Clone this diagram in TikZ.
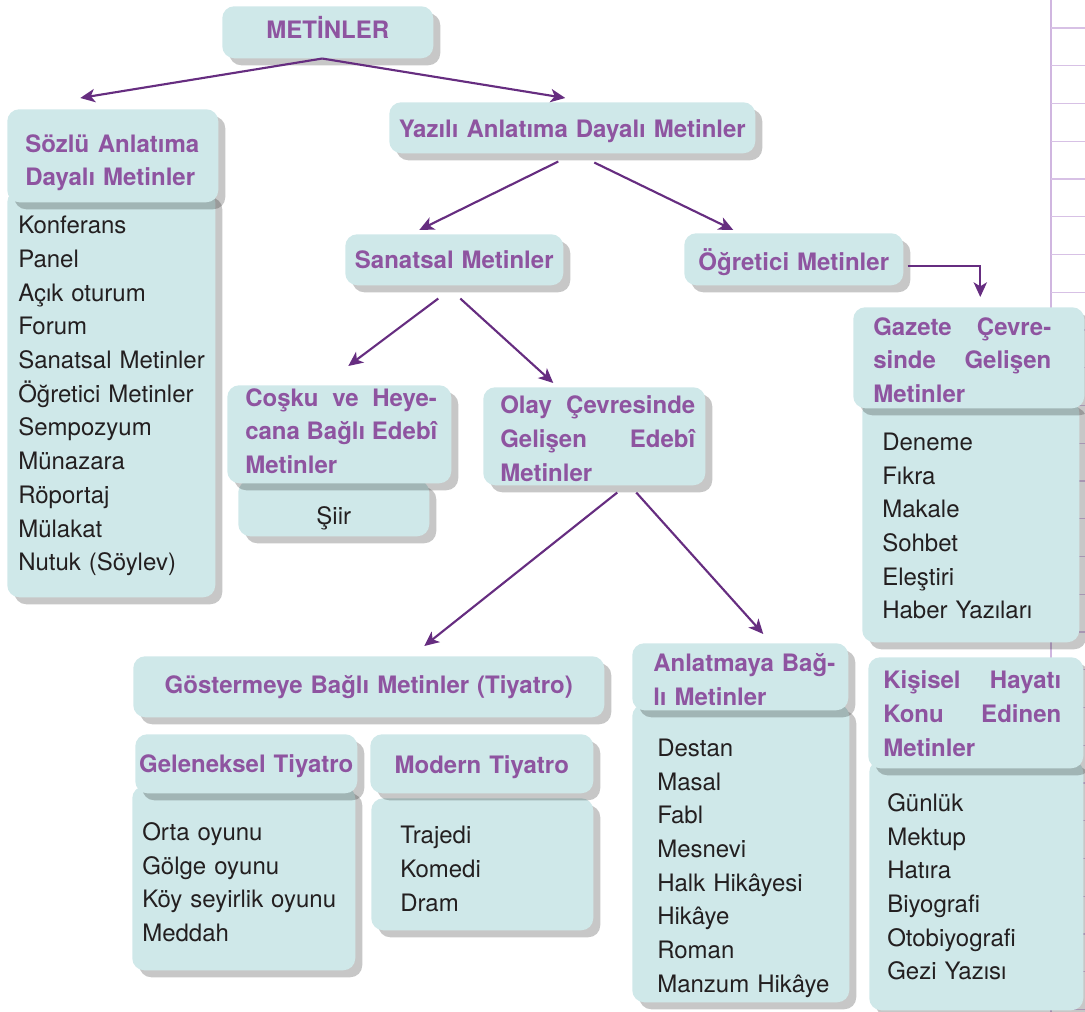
\documentclass[tikz,border=0pt]{standalone}
\usepackage{fontspec}
\setmainfont{TeX Gyre Heros}
\usetikzlibrary{arrows.meta,shadows,calc}
\definecolor{boxcol}{RGB}{207,232,233}
\definecolor{headcol}{RGB}{142,84,160}
\definecolor{itemcol}{RGB}{35,31,32}
\definecolor{arrowcol}{RGB}{102,45,128}
\definecolor{rulecol}{RGB}{208,182,224}
\newdimen\pxu \pxu=0.75pt
\hfuzz=\maxdimen \hbadness=10000
\newcommand\jl[2]{\makebox[#1\pxu][s]{\spaceskip=\fontdimen2\font plus 1fil\relax#2}}
\newcommand\diaghead{\fontsize{18}{25.3}\selectfont\bfseries}
\newcommand\diagitem{\fontsize{18}{25.3}\selectfont}
\tikzset{
  boxbase/.style={fill=boxcol, rounded corners=9pt, inner ysep=0pt,
    drop shadow={shadow xshift=5.25pt, shadow yshift=-5.25pt, fill=black, opacity=0.22}},
  bx/.style n args={6}{boxbase, anchor=north west, at={(#1,#2)},
    minimum width={(#3-#1)*0.75pt}, text width={(#3-#1-2*#6)*0.75pt},
    inner xsep={#6*0.75pt}, text height={(#5-#2)*0.75pt}, text depth={(#4-#5)*0.75pt}},
  head/.style={font=\diaghead, text=headcol, align=left},
  chead/.style={font=\diaghead, text=headcol, align=center},
  item/.style={font=\diagitem, text=itemcol, align=left},
  citem/.style={font=\diagitem, text=itemcol, align=center},
  conn/.style={draw=arrowcol, line width=1.6pt, -{Stealth[length=11pt,width=10pt,inset=3pt]}},
}
\begin{document}
\begin{tikzpicture}[x=0.75pt,y=-0.75pt]
\useasboundingbox (0,0) rectangle (1085,1012);
% ruled margin
\draw[rulecol, line width=1.5pt] (1051,0) -- (1051,1012);
\foreach \k in {0,...,26}
  \draw[rulecol!85, line width=1pt] (1051,{28+37.75*\k}) -- (1085,{28+37.75*\k});

\node[bx={222}{6}{433}{58}{38}{0}, chead] (metinler) {METİNLER};

\node[bx={7}{190}{215}{597}{233.3}{11}, item] (sozluList)
  {Konferans\\Panel\\\mbox{Açık oturum}\\Forum\\\mbox{Sanatsal Metinler}\\\mbox{Öğretici Metinler}\\Sempozyum\\Münazara\\Röportaj\\Mülakat\\\mbox{Nutuk (Söylev)}};
\node[bx={7}{109}{218}{202}{152}{18}, head] (sozlu)
  {\jl{174}{Sözlü Anlatıma}\\\mbox{Dayalı Metinler}};

\node[bx={389}{102}{755}{153}{137.3}{0}, chead] (yazili) {Yazılı Anlatıma Dayalı Metinler};
\node[bx={345}{234}{563}{285}{268.3}{0}, chead] (sanatsal) {Sanatsal Metinler};
\node[bx={684}{233}{903}{285}{270}{0}, chead] (ogretici) {Öğretici Metinler};

\node[bx={238}{480}{429}{536}{524}{0}, citem] (siir) {Şiir};
\node[bx={227}{385}{451}{483}{406}{18}, head] (cosku)
  {\jl{191.7}{Coşku ve Heye-}\\\jl{191.7}{cana Bağlı Edebî}\\Metinler};

\node[bx={483}{387}{705}{485}{413.3}{17}, head] (olay)
  {\jl{195}{Olay Çevresinde}\\\jl{195}{Gelişen Edebî}\\Metinler};

\node[bx={862}{400}{1079}{642}{450}{20}, item] (gazeteList)
  {Deneme\\Fıkra\\Makale\\Sohbet\\Eleştiri\\\mbox{Haber Yazıları}};
\node[bx={853}{307}{1084}{408}{335}{20}, head] (gazete)
  {\jl{178}{Gazete Çevre-}\\\jl{178}{sinde Gelişen}\\Metinler};

\node[bx={133}{656}{604}{717}{693.3}{0}, chead] (gostermeye) {Göstermeye Bağlı Metinler (Tiyatro)};

\node[bx={132}{786}{355}{970}{840}{10}, item] (gelenekselList)
  {\mbox{Orta oyunu}\\\mbox{Gölge oyunu}\\\mbox{Köy seyirlik oyunu}\\Meddah};
\node[bx={135}{734}{357}{793}{772.3}{0}, chead] (geleneksel) {Geleneksel Tiyatro};

\node[bx={371}{798}{593}{930}{843.3}{29}, item] (modernList)
  {Trajedi\\Komedi\\Dram};
\node[bx={370}{734}{593}{793}{773.3}{0}, chead] (modern) {Modern Tiyatro};

\node[bx={632}{704}{849}{1002}{756}{25}, item] (anlatmayaList)
  {Destan\\Masal\\Fabl\\Mesnevi\\\mbox{Halk Hikâyesi}\\Hikâye\\Roman\\\mbox{Manzum Hikâye}};
\node[bx={632}{643}{848}{710}{671.7}{21}, head] (anlatmaya)
  {\mbox{Anlatmaya Bağ-}\\\mbox{lı Metinler}};

\node[bx={869}{760}{1083}{1010}{811}{18}, item] (kisiselList)
  {Günlük\\Mektup\\Hatıra\\Biyografi\\Otobiyografi\\\mbox{Gezi Yazısı}};
\node[bx={868}{657}{1083}{768}{688.3}{15}, head] (kisisel)
  {\jl{178}{Kişisel Hayatı}\\\jl{178}{Konu Edinen}\\Metinler};

% connectors
\draw[conn] ($(metinler.south)+(-5.5,0)$) -- ($(sozlu.north)+(-32.5,-11)$);
\draw[conn] ($(metinler.south)+(-5.5,0)$) -- ($(yazili.north)+(-7,-4)$);
\draw[conn] ($(yazili.south)+(-14,8)$) -- ($(sanatsal.north)+(-35,-4)$);
\draw[conn] ($(yazili.south)+(22,9)$) -- ($(ogretici.north)+(-60.5,-3)$);
\draw[conn] ($(ogretici.east)+(4,7)$) -| ($(gazete.north)+(11.5,-10)$);
\draw[conn] ($(sanatsal.south)+(-16,13)$) -- ($(cosku.north)+(9,-19)$);
\draw[conn] ($(sanatsal.south)+(6,13)$) -- ($(olay.north)+(-41,-4)$);
\draw[conn] ($(olay.south)+(23,7)$) -- ($(gostermeye.north)+(55.5,-10)$);
\draw[conn] ($(olay.south)+(42,7)$) -- ($(anlatmaya.north)+(23,-9)$);
\end{tikzpicture}
\end{document}
